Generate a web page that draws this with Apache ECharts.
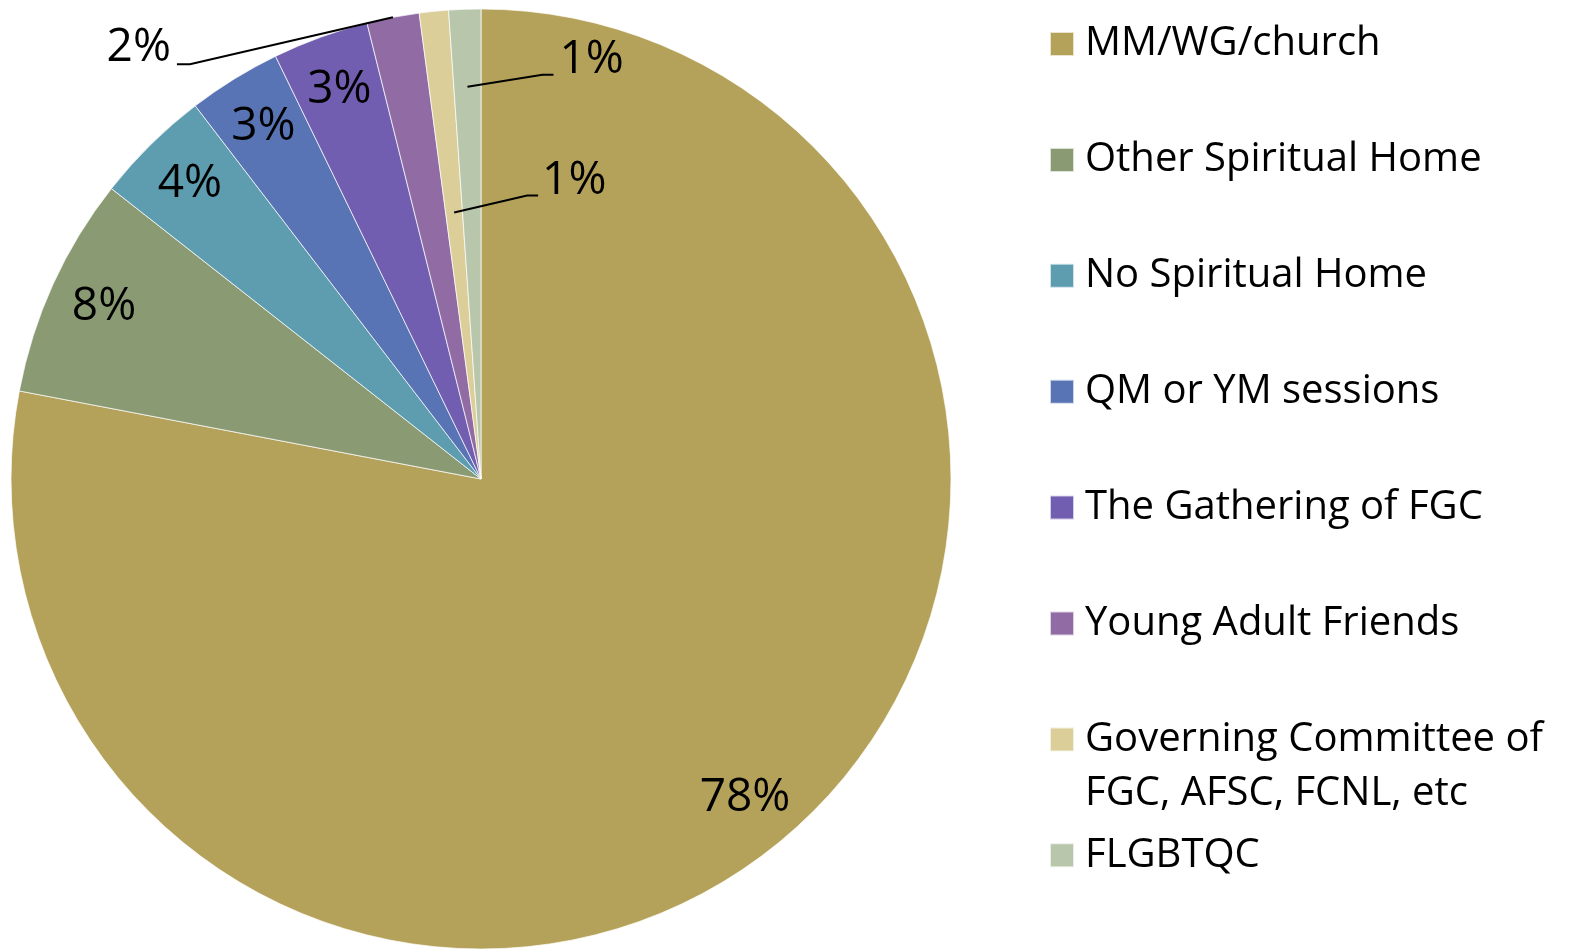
<!DOCTYPE html>
<html>
<head>
<meta charset="utf-8">
<title>Spiritual home</title>
<script src="https://cdn.jsdelivr.net/npm/echarts@6/dist/echarts.min.js"></script>
<style>
  html, body { margin: 0; padding: 0; background: #fff; }
  #chart { width: 1573px; height: 952px; }
</style>
</head>
<body>
<div id="chart"></div>
<script>
// data (percent of answers)
const categories = [
  'MM/WG/church',
  'Other Spiritual Home',
  'No Spiritual Home',
  'QM or YM sessions',
  'The Gathering of FGC',
  'Young Adult Friends',
  'Governing Committee of FGC, AFSC, FCNL, etc',
  'FLGBTQC'
];
const shares = [78.0, 7.6, 4.0, 3.2, 3.3, 1.8, 1.0, 1.1];

const colors = ['#b5a25a', '#8a9a72', '#5e9db0', '#5874b5', '#715eb0', '#916ca4', '#dbce99', '#b8c6ab'];
const FONT = 'Open Sans';

const pieCenter = [481, 479];
const pieRadius = 470;
const insideRadius = 409;   // where the in-slice labels sit
const outsideBelow = 2.5;   // slices smaller than this get a callout

// callouts for the thin slices: start as a share of radius, then offsets from that start
const callouts = {
  'Young Adult Friends': { k: 1.0, elbow: [-203, 47], end: [-216, 47], text: [-222, 31], align: 'right' },
  'Governing Committee of FGC, AFSC, FCNL, etc': { k: 0.57, elbow: [73, -17], end: [84, -17], text: [88, -32], align: 'left' },
  'FLGBTQC': { k: 0.835, elbow: [75, -12], end: [86, -12], text: [92, -27], align: 'left' }
};

const legendCenter0 = 42;
const legendStep = 115.9;
const legendLineH = 54;

function legendText(name) {
  // long entry wraps after "of"; blank first line keeps its first line level with the swatch
  return name.length > 30 ? ' \n' + name.replace(' of ', ' of\n') : name;
}

let chart = echarts.init(document.getElementById('chart'));

let legends = categories.map((name, i) => {
  let lines = legendText(name).split('\n').length;
  return {
    data: [name],
    orient: 'vertical',
    left: 1049,
    top: legendCenter0 + i * legendStep - lines * legendLineH / 2,
    padding: 0,
    itemWidth: 24,
    itemHeight: 24,
    icon: 'rect',
    selectedMode: false,
    formatter: legendText,
    textStyle: {
      fontFamily: FONT,
      fontSize: 40,
      lineHeight: legendLineH,
      color: '#000',
      padding: [4, 0, 0, 6]
    }
  };
});

function pieData(withLabels) {
  return categories.map((name, i) => {
    let out = shares[i] < outsideBelow;
    return {
      name: name,
      value: shares[i],
      label: { show: withLabels, position: out ? 'outside' : 'inside' },
      labelLine: { show: withLabels && out }
    };
  });
}

function placeLabel(p) {
  let c = callouts[categories[p.dataIndex]];
  if (c && p.labelLinePoints) {
    let p0 = p.labelLinePoints[0];
    let sx = pieCenter[0] + (p0[0] - pieCenter[0]) * c.k;
    let sy = pieCenter[1] + (p0[1] - pieCenter[1]) * c.k;
    return {
      x: sx + c.text[0],
      y: sy + c.text[1],
      align: c.align,
      verticalAlign: 'middle',
      labelLinePoints: [
        [sx, sy],
        [sx + c.elbow[0], sy + c.elbow[1]],
        [sx + c.end[0], sy + c.end[1]]
      ]
    };
  }
  // in-slice labels: push out from half radius to insideRadius
  let r = p.labelRect;
  let x = r.x + r.width / 2;
  let y = r.y + r.height / 2;
  let s = insideRadius / (pieRadius / 2);
  return {
    x: pieCenter[0] + (x - pieCenter[0]) * s,
    y: pieCenter[1] + (y - pieCenter[1]) * s,
    align: 'center',
    verticalAlign: 'middle'
  };
}

let option = {
  animation: false,
  backgroundColor: '#fff',
  color: colors,
  legend: legends,
  series: [
    {
      // the slices
      type: 'pie',
      z: 2,
      center: pieCenter,
      radius: pieRadius,
      startAngle: 90,
      clockwise: true,
      silent: true,
      itemStyle: {
        borderColor: 'rgba(255,255,255,0.7)',
        borderWidth: 1
      },
      label: { show: false },
      labelLine: { show: false },
      data: pieData(false)
    },
    {
      // same slices, see-through, carrying the percent labels and callout lines on top
      type: 'pie',
      z: 3,
      center: pieCenter,
      radius: pieRadius,
      startAngle: 90,
      clockwise: true,
      silent: true,
      avoidLabelOverlap: false,
      legendHoverLink: false,
      itemStyle: { color: 'rgba(0,0,0,0)', borderWidth: 0 },
      label: {
        fontFamily: FONT,
        fontSize: 46,
        color: '#000',
        formatter: p => Math.round(p.percent) + '%'
      },
      labelLine: {
        showAbove: true,
        lineStyle: { color: '#000', width: 2 }
      },
      data: pieData(true),
      labelLayout: placeLabel
    }
  ]
};

chart.setOption(option);
</script>
</body>
</html>
